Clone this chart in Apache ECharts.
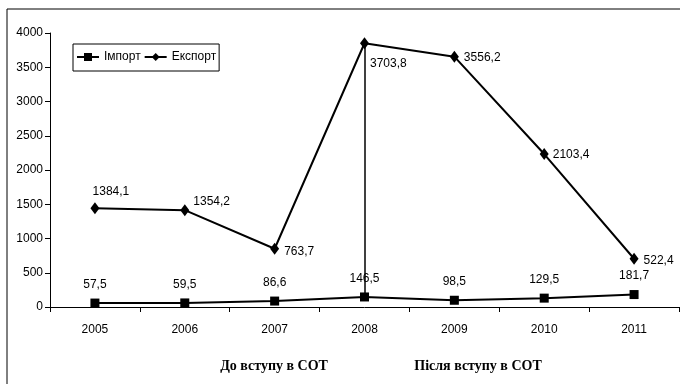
<!DOCTYPE html>
<html>
<head>
<meta charset="utf-8">
<script src="https://cdn.jsdelivr.net/npm/echarts@6/dist/echarts.min.js"></script>
<style>
  html, body { margin: 0; padding: 0; background: #fff; }
  #chart { width: 680px; height: 384px; }
</style>
</head>
<body>
<div id="chart"></div>
<script>
// values (labels show raw values, export is stacked on import)
const years = ['2005', '2006', '2007', '2008', '2009', '2010', '2011'];
const importVals = [57.5, 59.5, 86.6, 146.5, 98.5, 129.5, 181.7];
const exportVals = [1384.1, 1354.2, 763.7, 3703.8, 3556.2, 2103.4, 522.4];
const yTicks = { min: 0, max: 4000, interval: 500 };

const FONT = "'Liberation Sans', Arial, sans-serif";
const fmt = p => String(p.value).replace('.', ',');

// per-point label placement for the export line
const exportLabelPos = [
  { position: 'top', offset: [16, 0] },
  { position: 'right', offset: [-1, -8] },
  { position: 'right', offset: [0, 3] },
  { position: 'right', offset: [-4, 20] },
  { position: 'right', offset: [0, 1] },
  { position: 'right', offset: [-1, 1] },
  { position: 'right', offset: [0, 2] }
];

const chart = echarts.init(document.getElementById('chart'));
chart.setOption({
  animation: false,
  backgroundColor: '#fff',
  textStyle: { fontFamily: FONT },
  grid: { left: 50, right: 1, top: 33, bottom: 77 },
  legend: {
    left: 73,
    top: 44,
    orient: 'horizontal',
    borderColor: '#000',
    borderWidth: 1,
    padding: [7, 3, 8, 3],
    itemWidth: 22,
    itemHeight: 10,
    itemGap: 3,
    textStyle: { color: '#000', fontSize: 12, fontFamily: FONT },
    data: ['Імпорт', 'Експорт']
  },
  xAxis: {
    type: 'category',
    data: years,
    boundaryGap: true,
    axisLine: { lineStyle: { color: '#000', width: 1 } },
    axisTick: { show: true, length: 5, lineStyle: { color: '#000' } },
    axisLabel: { color: '#000', fontSize: 12, margin: 17, fontFamily: FONT },
    splitLine: { show: false }
  },
  yAxis: {
    type: 'value',
    min: yTicks.min,
    max: yTicks.max,
    interval: yTicks.interval,
    axisLine: { show: true, lineStyle: { color: '#000', width: 1 } },
    axisTick: { show: true, length: 5, lineStyle: { color: '#000' } },
    axisLabel: {
      color: '#000', fontSize: 12, margin: 7, fontFamily: FONT,
      formatter: v => String(v)
    },
    splitLine: { show: false }
  },
  series: [
    {
      name: 'Імпорт',
      type: 'line',
      stack: 'total',
      data: importVals,
      symbol: 'rect',
      symbolSize: 9,
      itemStyle: { color: '#000' },
      lineStyle: { color: '#000', width: 2 },
      label: {
        show: true, position: 'top', distance: 8,
        color: '#000', fontSize: 12, fontFamily: FONT, formatter: fmt
      },
      markLine: {
        silent: true,
        symbol: 'none',
        label: { show: false },
        lineStyle: { color: '#000', width: 1.5, type: 'solid' },
        data: [[
          { coord: [years[3], importVals[3]] },
          { coord: [years[3], importVals[3] + exportVals[3]] }
        ]]
      }
    },
    {
      name: 'Експорт',
      type: 'line',
      stack: 'total',
      data: exportVals.map((v, i) => ({ value: v, label: exportLabelPos[i] })),
      symbol: 'diamond',
      symbolSize: [9, 12],
      itemStyle: { color: '#000' },
      lineStyle: { color: '#000', width: 2 },
      label: {
        show: true, position: 'right', distance: 5,
        color: '#000', fontSize: 12, fontFamily: FONT, formatter: fmt
      }
    }
  ],
  graphic: [
    {
      type: 'rect',
      shape: { x: 7, y: 9, width: 700, height: 400 },
      style: { fill: 'none', stroke: '#000', lineWidth: 1 },
      silent: true
    },
    {
      type: 'text',
      x: 274, y: 366,
      style: {
        text: 'До вступу в СОТ', fill: '#000',
        font: "bold 14px 'Liberation Serif', 'Times New Roman', serif",
        align: 'center', verticalAlign: 'middle'
      }
    },
    {
      type: 'text',
      x: 478, y: 366,
      style: {
        text: 'Після вступу в СОТ', fill: '#000',
        font: "bold 14px 'Liberation Serif', 'Times New Roman', serif",
        align: 'center', verticalAlign: 'middle'
      }
    }
  ]
});
</script>
</body>
</html>
